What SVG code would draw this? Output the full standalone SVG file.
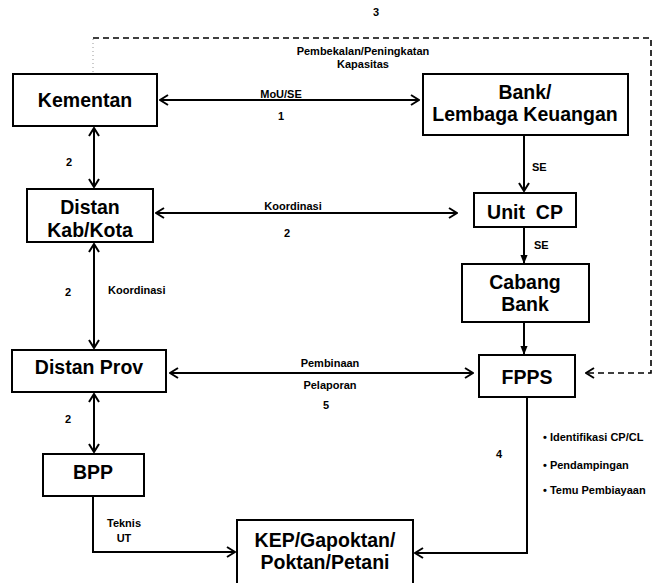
<svg xmlns="http://www.w3.org/2000/svg" width="656" height="583" viewBox="0 0 656 583">
<defs>
<style>
.box{fill:#fff;stroke:#000;stroke-width:2}
.nt{font-family:"Liberation Sans",Arial,sans-serif;font-weight:bold;font-size:19.5px;text-anchor:middle;fill:#000}
.lb{font-family:"Liberation Sans",Arial,sans-serif;font-weight:bold;font-size:11px;fill:#000}
.c{text-anchor:middle}
.ln{fill:none;stroke:#000;stroke-width:2}
.dash{fill:none;stroke:#000;stroke-width:1.6;stroke-dasharray:6 4}
</style>
<marker id="oa" viewBox="0 0 10 12" refX="9" refY="6" markerWidth="10" markerHeight="12" markerUnits="userSpaceOnUse" orient="auto-start-reverse">
<path d="M1,1 L9,6 L1,11" fill="none" stroke="#000" stroke-width="2"/>
</marker>
<marker id="fa" viewBox="0 0 10 10" refX="9" refY="5" markerWidth="9" markerHeight="9" markerUnits="userSpaceOnUse" orient="auto">
<path d="M0,1 L10,5 L0,9 Z" fill="#000"/>
</marker>
</defs>
<rect width="656" height="583" fill="#fff"/>
<g id="connectors">
<path class="dash" d="M93,38 H651 V373 H586" marker-end="url(#oa)"/>
<path d="M93,39 V73" fill="none" stroke="#999" stroke-width="1" stroke-dasharray="1 3"/>
<path class="ln" d="M160,100 H419" marker-start="url(#oa)" marker-end="url(#oa)"/>
<path class="ln" d="M94,128 V187" marker-start="url(#oa)" marker-end="url(#oa)"/>
<path class="ln" d="M156,213 H457" marker-start="url(#oa)" marker-end="url(#oa)"/>
<path class="ln" d="M94,244 V348" marker-start="url(#oa)" marker-end="url(#oa)"/>
<path class="ln" d="M170,373 H473" marker-start="url(#oa)" marker-end="url(#oa)"/>
<path class="ln" d="M94,394 V452" marker-start="url(#oa)" marker-end="url(#oa)"/>
<path class="ln" d="M524,135 V191" marker-end="url(#oa)"/>
<path class="ln" d="M524,227 V263" marker-end="url(#fa)"/>
<path class="ln" d="M524,322 V354" marker-end="url(#fa)"/>
<path class="ln" d="M93,496 V552 H235" marker-end="url(#oa)"/>
<path class="ln" d="M527,397 V553 H415" marker-end="url(#oa)"/>
<text class="lb c" x="376" y="16" font-size="10">3</text>
<text class="lb c" x="363" y="55" font-size="10">Pembekalan/Peningkatan</text>
<text class="lb c" x="363" y="68" font-size="10">Kapasitas</text>
<text class="lb c" x="281" y="98">MoU/SE</text>
<text class="lb c" x="281" y="120" font-size="10">1</text>
<text class="lb c" x="69" y="166" font-size="10">2</text>
<text class="lb c" x="293" y="210">Koordinasi</text>
<text class="lb c" x="287" y="237" font-size="10">2</text>
<text class="lb" x="532" y="171">SE</text>
<text class="lb" x="534" y="249">SE</text>
<text class="lb c" x="68" y="296" font-size="10">2</text>
<text class="lb" x="108" y="294">Koordinasi</text>
<text class="lb c" x="330" y="367">Pembinaan</text>
<text class="lb c" x="330" y="389">Pelaporan</text>
<text class="lb c" x="326" y="409" font-size="10">5</text>
<text class="lb c" x="68" y="423" font-size="10">2</text>
<text class="lb c" x="124" y="527">Teknis</text>
<text class="lb c" x="124" y="542">UT</text>
<text class="lb c" x="499" y="458" font-size="10">4</text>
<text class="lb" x="543" y="441">• Identifikasi CP/CL</text>
<text class="lb" x="543" y="469">• Pendampingan</text>
<text class="lb" x="543" y="494">• Temu Pembiayaan</text>
</g>
<g id="kementan"><rect class="box" x="13" y="74" width="144" height="52"/><text class="nt" x="85" y="107">Kementan</text></g>
<g id="bank"><rect class="box" x="423" y="74" width="205" height="61"/><text class="nt" x="525" y="99">Bank/</text><text class="nt" x="525" y="121">Lembaga Keuangan</text></g>
<g id="distan-kab"><rect class="box" x="27" y="189" width="126" height="53"/><text class="nt" x="90" y="214">Distan</text><text class="nt" x="90" y="237">Kab/Kota</text></g>
<g id="unit-cp"><rect class="box" x="474" y="193" width="102" height="34"/><text class="nt" x="525" y="219" xml:space="preserve">Unit  CP</text></g>
<g id="cabang-bank"><rect class="box" x="462" y="264" width="127" height="58"/><text class="nt" x="525" y="289">Cabang</text><text class="nt" x="525" y="311">Bank</text></g>
<g id="distan-prov"><rect class="box" x="12" y="350" width="154" height="42"/><text class="nt" x="89" y="374">Distan Prov</text></g>
<g id="fpps"><rect class="box" x="479" y="355" width="96" height="42"/><text class="nt" x="527" y="384">FPPS</text></g>
<g id="bpp"><rect class="box" x="43" y="454" width="101" height="42"/><text class="nt" x="93" y="479">BPP</text></g>
<g id="kep"><rect class="box" x="237" y="520" width="176" height="75"/><text class="nt" x="325" y="547">KEP/Gapoktan/</text><text class="nt" x="325" y="569">Poktan/Petani</text></g>
</svg>
